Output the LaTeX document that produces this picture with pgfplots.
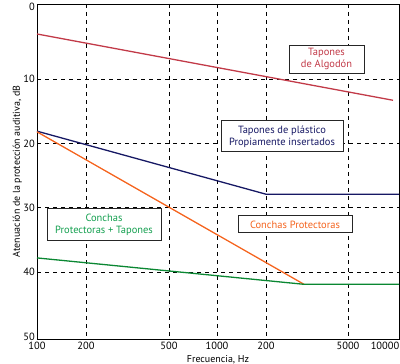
\documentclass[border=0pt]{standalone}
\usepackage{pgfplots}
\pgfplotsset{compat=1.18}
\usepackage{fontspec}
\setmainfont{PT Sans}
\definecolor{cred}{RGB}{194,58,72}
\definecolor{cnavy}{RGB}{22,24,100}
\definecolor{corange}{RGB}{245,100,30}
\definecolor{cgreen}{RGB}{10,135,50}
\definecolor{cgreentxt}{RGB}{20,160,80}
\begin{document}
\begin{tikzpicture}
\path[use as bounding box] (-37bp,-25bp) rectangle (363bp,339bp);
\begin{axis}[
  at={(0,0)}, anchor=south west,
  scale only axis, width=362bp, height=335bp,
  xmin=37, xmax=399, ymin=-1.66, ymax=50.4, y dir=reverse,
  xtick={86,169,217,266,348}, xticklabels={200,500,1000,200,5000},
  ytick={10,20,30,40}, yticklabels={10,20,30,40},
  extra x ticks={37,385}, extra x tick labels={100,10000},
  extra y ticks={-1.2,50}, extra y tick labels={0,50},
  extra tick style={grid=none},
  major tick length=0pt,
  grid=major,
  major grid style={black, dashed, line width=0.7pt, dash pattern=on 4bp off 4bp},
  axis line style={black, line width=1pt},
  tick label style={font=\fontsize{10.5}{12}\selectfont, inner sep=1pt},
  xticklabel style={yshift=-2bp},
  yticklabel style={xshift=-1bp},
  xlabel={Frecuencia, Hz},
  ylabel={Atenuación de la protección auditiva, dB},
  label style={font=\fontsize{10}{12}\selectfont},
  xlabel style={yshift=-1bp},
  ylabel style={yshift=-3bp},
  clip=false,
]
\addplot[cred, line width=1.3pt] coordinates {(37,3.0) (393,13.3)};
\addplot[cnavy, line width=1.3pt] coordinates {(37,18.1) (266,27.9) (399,27.9)};
\addplot[corange, line width=1.3pt] coordinates {(37,18.2) (304,41.9)};
\addplot[cgreen, line width=1.3pt] coordinates {(37,37.8) (304,41.9) (399,41.9)};

\node[draw=black!85, line width=1pt, fill=white, text=cred, align=center,
  minimum width=75bp, minimum height=28bp, inner sep=1pt,
  font=\fontsize{10.5}{12}\selectfont] at (axis cs:326.5,6.9) {Tapones\\de Algodón};
\node[draw=black!85, line width=1pt, fill=white, text=cnavy, align=center,
  minimum width=122bp, minimum height=31bp, inner sep=1pt,
  font=\fontsize{10.5}{12}\selectfont] at (axis cs:282,18.9) {Tapones de plástico\\Propiamente insertados};
\node[draw=black!85, line width=1pt, fill=white, text=cgreentxt, align=center,
  minimum width=114bp, minimum height=32bp, inner sep=1pt,
  font=\fontsize{10.5}{12}\selectfont] at (axis cs:104,32.6) {Conchas\\Protectoras + Tapones};
\node[draw=black!85, line width=1pt, fill=white, text=corange, align=center,
  minimum width=114bp, minimum height=17bp, inner sep=1pt,
  font=\fontsize{10.5}{12}\selectfont] at (axis cs:295,32.6) {Conchas Protectoras};
\end{axis}
\end{tikzpicture}
\end{document}
